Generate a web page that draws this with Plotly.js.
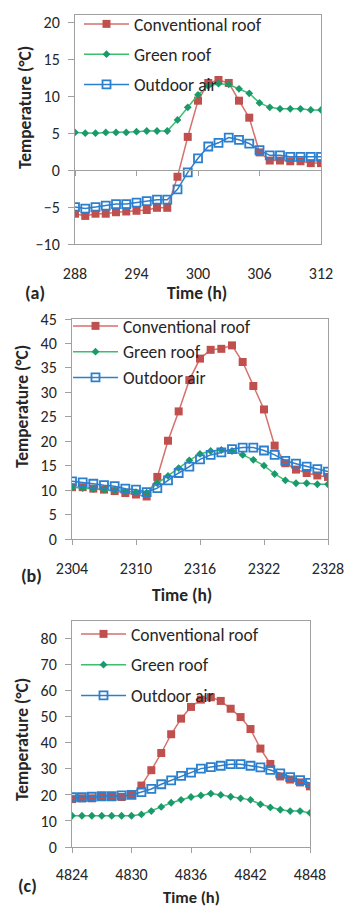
<!DOCTYPE html>
<html>
<head>
<meta charset="utf-8">
<script src="https://cdn.plot.ly/plotly-3.0.1.min.js"></script>
<style>html,body{margin:0;padding:0;background:#fff;}#chart{width:347px;height:908px;}</style>
</head>
<body>
<div id="chart"></div>
<script>
// ---------- Data ----------
const timeA = [288,289,290,291,292,293,294,295,296,297,298,299,300,301,302,303,304,305,306,307,308,309,310,311,312];
const convA = [-5.9,-6.2,-5.9,-5.9,-5.7,-5.6,-5.5,-5.4,-5.1,-5.1,-0.9,4.5,9.4,11.8,12.2,11.8,9.4,7.1,2.4,1.3,1.3,1.2,1.2,0.95,0.95];
const greenA = [5.1,5.0,5.0,5.1,5.1,5.1,5.2,5.3,5.3,5.3,6.8,8.5,10.2,11.4,11.7,11.6,11.0,10.4,9.1,8.5,8.3,8.3,8.3,8.15,8.15];
const airA = [-5.0,-5.2,-5.0,-4.8,-4.6,-4.6,-4.4,-4.2,-4.0,-4.0,-2.6,-0.3,1.6,3.2,3.7,4.4,4.1,3.6,2.7,2.0,2.0,1.8,1.8,1.8,1.8];

const timeB = [2304,2305,2306,2307,2308,2309,2310,2311,2312,2313,2314,2315,2316,2317,2318,2319,2320,2321,2322,2323,2324,2325,2326,2327,2328];
const convB = [10.6,10.6,10.3,10.1,9.8,9.4,9.1,8.7,12.7,20.1,26.1,32.5,36.9,38.7,38.9,39.6,36.2,31.3,26.5,19.1,15.5,14.2,13.5,13.0,12.7];
const greenB = [10.6,10.4,10.2,10.1,9.9,9.7,9.6,9.5,11.4,12.9,14.5,16.1,17.4,18.0,18.2,18.0,17.2,16.2,15.0,13.3,12.0,11.4,11.4,11.2,11.2];
const airB = [11.8,11.6,11.3,11.0,10.8,10.3,10.1,9.6,10.4,12.0,13.5,14.8,16.3,17.2,17.7,18.4,18.7,18.7,18.1,17.2,16.0,15.4,14.8,14.3,13.8];

const timeC = [4824,4825,4826,4827,4828,4829,4830,4831,4832,4833,4834,4835,4836,4837,4838,4839,4840,4841,4842,4843,4844,4845,4846,4847,4848];
const convC = [18.4,18.7,18.7,19.5,19.5,19.2,20.0,23.6,29.5,36.1,43.3,49.3,53.8,56.6,57.5,56.1,53.1,49.9,45.3,37.8,31.9,27.1,25.9,24.8,23.3];
const greenC = [12.0,12.0,12.0,12.0,12.0,12.0,12.0,12.5,13.8,15.4,17.0,18.1,19.2,19.8,20.5,20.0,19.3,18.7,18.1,16.4,15.2,14.3,13.8,13.8,13.1];
const airC = [19.1,19.1,19.3,19.5,19.5,19.8,20.0,21.1,22.3,24.1,25.6,27.3,28.6,30.1,30.7,31.2,31.8,31.8,31.2,30.6,29.6,28.3,26.8,25.7,24.6];

const seriesNames = ['Conventional roof','Green roof','Outdoor air'];
const xTicksA = [288,294,300,306,312];
const xTicksB = [2304,2310,2316,2322,2328];
const xTicksC = [4824,4830,4836,4842,4848];
const panelLabels = ['(a)','(b)','(c)'];
const yTitle = 'Temperature (°C)';
const xTitle = 'Time (h)';

// ---------- Styles ----------
const W = 347, H = 908;
const FONT = 'Carlito, Calibri, Lato, sans-serif';
const GRAY = '#a0a0a0';
const TXT = '#262626';
const RED = '#C0504D', REDLINE = '#D5706C';
const GREENLINE = '#3DBE6E', GREENMK = '#1A9A6C';
const BLUE = '#2B7FCC';
const TICKSIZE = 16, TITLESIZE = 17.5, LEGSIZE = 17.5;

function px2fx(p){ return p / W; }
function px2fy(p){ return 1 - p / H; }

const panels = [
  {t: timeA, c: convA, g: greenA, o: airA, ticks: xTicksA, xr:[288,312], yr:[-10,21], dy:5,
   xpx:[75,321], ypx:[15,244], leg:{x:79, y:6, gap:4.5}, xstand:15,
   ytitle:{x:25, y:108}, xtitle:{x:197, y:293, s:17.5}, lab:{x:35, y:293}},
  {t: timeB, c: convB, g: greenB, o: airB, ticks: xTicksB, xr:[2304,2328], yr:[0,45], dy:5,
   xpx:[72,328], ypx:[319,539], leg:{x:68, y:308, gap:0}, xstand:10,
   ytitle:{x:22, y:407}, xtitle:{x:182, y:595, s:17.5}, lab:{x:32, y:576}},
  {t: timeC, c: convC, g: greenC, o: airC, ticks: xTicksC, xr:[4824,4848], yr:[0,86.8], dy:10,
   xpx:[72,310], ypx:[621,847], leg:{x:76, y:616, gap:5}, xstand:8,
   ytitle:{x:22, y:740}, xtitle:{x:191, y:897, s:16.5}, lab:{x:27, y:886}}
];

const data = [];
const layout = {
  width: W, height: H,
  margin: {l:0, r:0, t:0, b:0},
  paper_bgcolor: '#ffffff', plot_bgcolor: 'rgba(0,0,0,0)',
  font: {family: FONT, size: TICKSIZE, color: TXT},
  showlegend: true,
  annotations: []
};

panels.forEach((p, i) => {
  const n = i + 1;
  const xa = n === 1 ? 'x' : 'x' + n;
  const ya = n === 1 ? 'y' : 'y' + n;
  const legName = n === 1 ? 'legend' : 'legend' + n;
  // panel a: outdoor air drawn on an overlay x-axis that sits at y = 0
  const airX = (n === 1) ? 'x4' : xa;

  data.push({
    type:'scatter', mode:'lines+markers', name: seriesNames[0], x: p.t, y: p.c,
    xaxis: xa, yaxis: ya, legend: legName, legendgroup: 'c'+n,
    line:{color: REDLINE, width:1.5},
    marker:{symbol:'square', size:8, color: RED, line:{width:0}}
  });
  data.push({
    type:'scatter', mode:'lines+markers', name: seriesNames[1], x: p.t, y: p.g,
    xaxis: xa, yaxis: ya, legend: legName, legendgroup: 'g'+n,
    line:{color: GREENLINE, width:1.5},
    marker:{symbol:'diamond', size:6, color: GREENMK, line:{width:0}}
  });
  data.push({
    type:'scatter', mode:'lines+markers', name: seriesNames[2], x: p.t, y: p.o,
    xaxis: airX, yaxis: ya, legend: legName, legendgroup: 'o'+n,
    line:{color: BLUE, width:1.5},
    marker:{symbol:'square-open', size:8, color: BLUE, line:{width:1.8, color: BLUE}}
  });

  const xKey = n === 1 ? 'xaxis' : 'xaxis' + n;
  const yKey = n === 1 ? 'yaxis' : 'yaxis' + n;
  const ydom = [px2fy(p.ypx[1]), px2fy(p.ypx[0])];
  const xdom = [px2fx(p.xpx[0]), px2fx(p.xpx[1])];

  layout[xKey] = {
    domain: xdom, anchor: ya, range: p.xr, fixedrange: true,
    tickmode: 'array', tickvals: p.ticks, ticktext: p.ticks.map(String),
    showline: true, mirror: true, linecolor: GRAY, linewidth: 1,
    ticks: 'outside', ticklen: n === 1 ? 0 : 5, tickcolor: GRAY, tickwidth: 1,
    ticklabelstandoff: p.xstand,
    showgrid: false, zeroline: false,
    tickfont: {family: FONT, size: TICKSIZE, color: TXT}
  };
  layout[yKey] = {
    domain: ydom, anchor: xa, range: p.yr, fixedrange: true,
    tickmode: 'linear', tick0: 0, dtick: p.dy,
    showline: true, mirror: true, linecolor: GRAY, linewidth: 1,
    ticks: 'outside', ticklen: 6, tickcolor: GRAY, tickwidth: 1,
    ticklabelstandoff: 5,
    showgrid: false, zeroline: false,
    tickfont: {family: FONT, size: TICKSIZE, color: TXT}
  };

  layout[legName] = {
    x: px2fx(p.leg.x), y: px2fy(p.leg.y), xanchor: 'left', yanchor: 'top',
    xref: 'paper', yref: 'paper',
    bgcolor: 'rgba(0,0,0,0)', borderwidth: 0,
    font: {family: FONT, size: LEGSIZE, color: TXT},
    traceorder: 'grouped', tracegroupgap: p.leg.gap, itemwidth: 45
  };

  // axis titles (Excel places them slightly off-centre, so they are positioned explicitly)
  layout.annotations.push({
    text: '<b>' + yTitle + '</b>', xref: 'paper', yref: 'paper', textangle: -90,
    x: px2fx(p.ytitle.x), y: px2fy(p.ytitle.y), xanchor: 'center', yanchor: 'middle',
    showarrow: false, font: {family: FONT, size: TITLESIZE, color: TXT}
  });
  layout.annotations.push({
    text: '<b>' + xTitle + '</b>', xref: 'paper', yref: 'paper',
    x: px2fx(p.xtitle.x), y: px2fy(p.xtitle.y), xanchor: 'center', yanchor: 'middle',
    showarrow: false, font: {family: FONT, size: p.xtitle.s, color: TXT}
  });
  layout.annotations.push({
    text: '<b>' + panelLabels[i] + '</b>', xref: 'paper', yref: 'paper',
    x: px2fx(p.lab.x), y: px2fy(p.lab.y),
    xanchor: 'center', yanchor: 'middle', showarrow: false,
    font: {family: FONT, size: 18, color: TXT}
  });
});

// overlay axis at y = 0 for panel (a) (its tick marks sit on the zero line)
const pa = panels[0];
const ydomA = [px2fy(pa.ypx[1]), px2fy(pa.ypx[0])];
const zeroFrac = ydomA[0] + (0 - pa.yr[0]) / (pa.yr[1] - pa.yr[0]) * (ydomA[1] - ydomA[0]);
layout.xaxis4 = {
  overlaying: 'x', anchor: 'free', position: zeroFrac,
  domain: [px2fx(pa.xpx[0]), px2fx(pa.xpx[1])],
  range: pa.xr, fixedrange: true,
  tickmode: 'array', tickvals: xTicksA, showticklabels: false,
  showline: true, linecolor: GRAY, linewidth: 1,
  ticks: 'outside', ticklen: 5, tickcolor: GRAY, tickwidth: 1,
  showgrid: false, zeroline: false
};

Plotly.newPlot('chart', data, layout, {staticPlot: true, displayModeBar: false});
</script>
</body>
</html>
